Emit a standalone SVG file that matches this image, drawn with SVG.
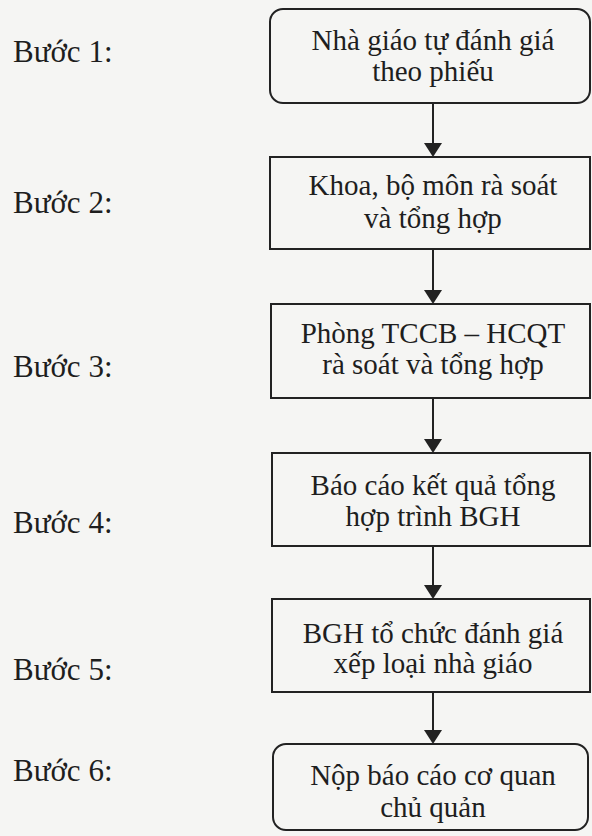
<svg xmlns="http://www.w3.org/2000/svg" width="592" height="836" viewBox="0 0 592 836">
<style>
.t{font-family:"Liberation Serif","Times New Roman",serif;font-size:29px;fill:#1e1e1e;text-anchor:middle}
.l{font-family:"Liberation Serif","Times New Roman",serif;font-size:31px;fill:#1e1e1e}
.b{fill:none;stroke:#222;stroke-width:2}
.c{stroke:#222;stroke-width:2;fill:none}
.h{fill:#222}
</style>
<rect width="592" height="836" fill="#f5f5f3"/>
<g id="labels">
<text class="l" x="13" y="62">Bước 1:</text>
<text class="l" x="13" y="213">Bước 2:</text>
<text class="l" x="13" y="377">Bước 3:</text>
<text class="l" x="13" y="533">Bước 4:</text>
<text class="l" x="13" y="680">Bước 5:</text>
<text class="l" x="13" y="781">Bước 6:</text>
</g>
<g id="connectors">
<path class="c" d="M433,103 L433,150"/>
<path class="h" d="M424,143 L442,143 L433,157 Z"/>
<path class="c" d="M433,249 L433,297"/>
<path class="h" d="M424,290 L442,290 L433,304 Z"/>
<path class="c" d="M433,398 L433,446"/>
<path class="h" d="M424,439 L442,439 L433,453 Z"/>
<path class="c" d="M433,546 L433,592"/>
<path class="h" d="M424,585 L442,585 L433,599 Z"/>
<path class="c" d="M433,692 L433,737"/>
<path class="h" d="M424,730 L442,730 L433,744 Z"/>
</g>
<g id="n1">
<rect class="b" x="270" y="9" width="320" height="94" rx="13"/>
<text class="t" x="433" y="50">Nhà giáo tự đánh giá</text>
<text class="t" x="433" y="81">theo phiếu</text>
</g>
<g id="n2">
<rect class="b" x="270" y="157" width="320" height="92"/>
<text class="t" x="433" y="195">Khoa, bộ môn rà soát</text>
<text class="t" x="433" y="228">và tổng hợp</text>
</g>
<g id="n3">
<rect class="b" x="271" y="304" width="319" height="94"/>
<text class="t" x="433" y="343">Phòng TCCB – HCQT</text>
<text class="t" x="433" y="374">rà soát và tổng hợp</text>
</g>
<g id="n4">
<rect class="b" x="272" y="453" width="318" height="93"/>
<text class="t" x="433" y="495">Báo cáo kết quả tổng</text>
<text class="t" x="433" y="526">hợp trình BGH</text>
</g>
<g id="n5">
<rect class="b" x="272" y="599" width="318" height="93"/>
<text class="t" x="433" y="643">BGH tổ chức đánh giá</text>
<text class="t" x="433" y="673">xếp loại nhà giáo</text>
</g>
<g id="n6">
<rect class="b" x="273" y="744" width="315" height="86" rx="13"/>
<text class="t" x="433" y="785">Nộp báo cáo cơ quan</text>
<text class="t" x="433" y="817">chủ quản</text>
</g>
</svg>
